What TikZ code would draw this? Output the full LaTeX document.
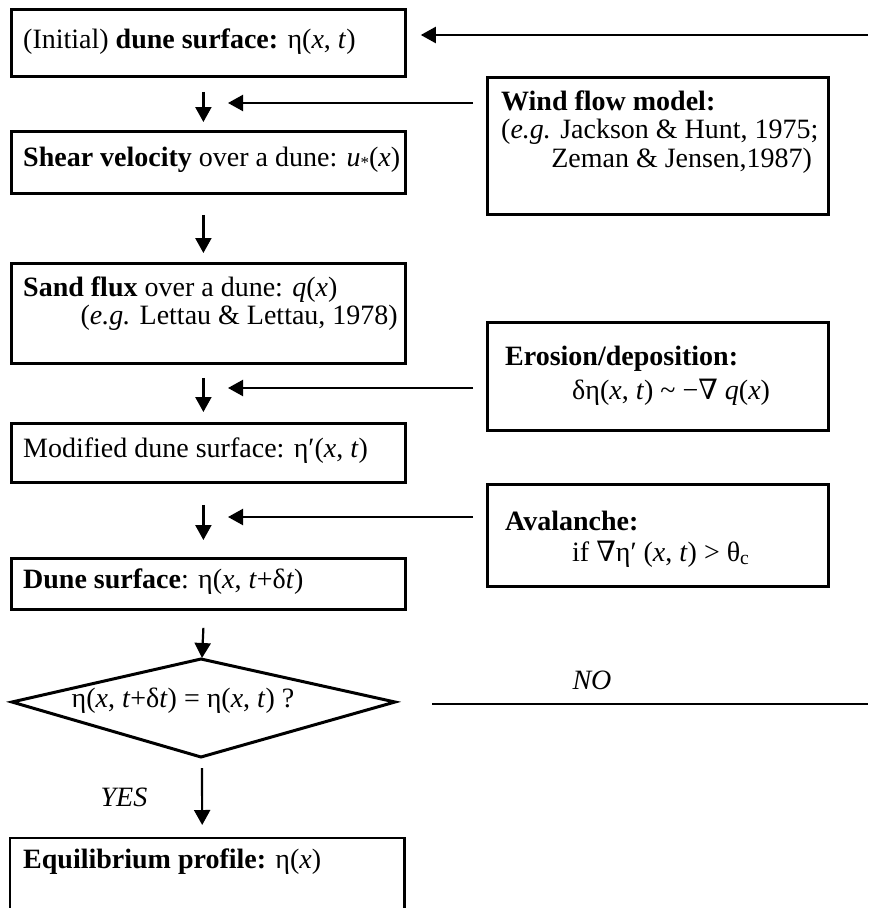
\documentclass[tikz,border=0pt]{standalone}
\usepackage{fontspec}
\setmainfont{Liberation Serif}
\newfontfamily\symf{DejaVu Serif}
\usetikzlibrary{arrows.meta,calc}
\newcommand{\VX}{\textit{x}}
\newcommand{\VT}{\textit{t}}
\begin{document}
\begin{tikzpicture}[x=1pt,y=-1pt,
  box/.style={draw,line width=2.8pt,inner sep=0pt,anchor=north west},
  txt/.style={inner sep=0pt,font=\fontsize{28}{33}\selectfont},
  lt/.style={txt,anchor=west},
  rt/.style={txt,anchor=east},
  ct/.style={txt,anchor=center},
  arr/.style={line width=2.2pt,-{Triangle[width=16pt,length=15pt]}},
  plain/.style={line width=2.4pt}]
\useasboundingbox (0,0) rectangle (868,908);
% left column boxes
\node[box,minimum width=394pt,minimum height=67pt] (b1) at (10,8) {};
\node[box,minimum width=394pt,minimum height=62pt] (b2) at (10,130) {};
\node[box,minimum width=394pt,minimum height=100pt] (b3) at (10,262) {};
\node[box,minimum width=394pt,minimum height=59pt] (b4) at (10,422) {};
\node[box,minimum width=394pt,minimum height=51pt] (b5) at (10,557) {};
\node[inner sep=0pt,anchor=north west,minimum width=394pt,minimum height=72pt] (b6) at (10,838) {};
\draw[line width=2.8pt] (b6.south west) -- (b6.north west) -- (b6.north east) -- (b6.south east);
% right column boxes
\node[box,minimum width=341pt,minimum height=137pt] (wind) at (486,76) {};
\node[box,minimum width=341pt,minimum height=108pt] (eros) at (486,321) {};
\node[box,minimum width=341pt,minimum height=102pt] (aval) at (486,483) {};
% diamond
\coordinate (dl) at (12,702);
\coordinate (dt) at (201,659);
\coordinate (dr) at (395,702);
\coordinate (db) at (201,757);
\draw[line width=3pt,line join=miter] (dl) -- (dt) -- (dr) -- (db) -- cycle;
% texts
\node[lt] (t1) at (23,42) {(Initial) \textbf{dune surface:} η(\VX, \VT)};
\node[lt] (t2) at (23,160) {\textbf{Shear velocity} over a dune: \textit{u}{\fontsize{17}{17}\selectfont\raisebox{-2pt}{*}}(\VX)};
\node[lt] (t3a) at (23,290) {\textbf{Sand flux} over a dune: \textit{q}(\VX)};
\node[rt] (t3b) at (398,318) {(\textit{e.g.} Lettau \& Lettau, 1978)};
\node[lt] (t4) at (23,451) {Modified dune surface: η′(\VX, \VT)};
\node[lt] (t5) at (23,582) {\textbf{Dune surface}: η(\VX, \VT+δ\VT)};
\node[lt] (t6) at (23,862) {\textbf{Equilibrium profile:} η(\VX)};
\node[lt] (w1) at (501,101) {\textbf{Wind flow model:}};
\node[lt] (w2) at (501,132) {(\textit{e.g.} Jackson \& Hunt, 1975;};
\node[rt] (w3) at (812,161) {Zeman \& Jensen,1987)};
\node[lt] (e1) at (505,359) {\textbf{Erosion/deposition:}};
\node[lt] (e2) at (572,392) {δη(\VX, \VT) \textasciitilde\ −{\symf ∇} \textit{q}(\VX)};
\node[lt] (a1) at (505,521) {\textbf{Avalanche:}};
\node[lt] (a2) at (572,554) {if {\symf ∇}η′ (\VX, \VT) > θ\textsubscript{c}};
\node[ct] (dq) at (183,701) {η(\VX, \VT+δ\VT) = η(\VX, \VT) ?};
\node[ct] (no) at (592,680) {\textit{NO}};
\node[ct] (yes) at (124,797) {\textit{YES}};
% connectors
\coordinate (topin) at (868,35);
\draw[arr] (topin) -- ($(b1.east |- topin)+(14,0)$);
\coordinate (h1) at (202,103);
\coordinate (h3) at (202,388);
\coordinate (h4) at (202,517);
\draw[arr] ($(b1.south)+(-5,14)$) -- ($(b2.north)+(-5,-8)$);
\draw[arr] ($(wind.west |- h1)+(-13,0)$) -- ($(h1)+(26,0)$);
\draw[arr] ($(b2.south)+(-5,20)$) -- ($(b3.north)+(-5,-9)$);
\draw[arr] ($(b3.south)+(-5,13)$) -- ($(b4.north)+(-5,-10)$);
\draw[arr] ($(eros.west |- h3)+(-13,0)$) -- ($(h3)+(26,0)$);
\draw[arr] ($(b4.south)+(-5,21)$) -- ($(b5.north)+(-5,-17)$);
\draw[arr] ($(aval.west |- h4)+(-13,0)$) -- ($(h4)+(26,0)$);
\draw[arr] ($(b5.south)+(-5,17)$) -- ($(dt)+(1,-1)$);
\draw[arr] ($(db)+(1,11)$) -- ($(b6.north)+(-5,-13)$);
\coordinate (noend) at (868,704);
\draw[plain] ($(dr)+(37,2)$) -- (noend);
\end{tikzpicture}
\end{document}
